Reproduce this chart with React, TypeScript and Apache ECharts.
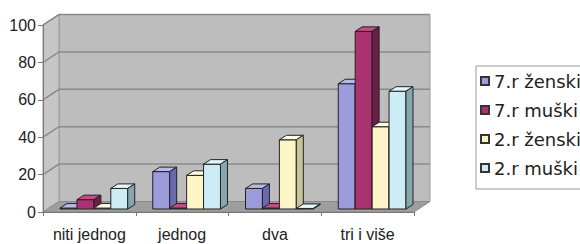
import React, { useEffect, useRef } from "react";
import * as echarts from "echarts";

const categories = ["niti jednog", "jednog", "dva", "tri i više"];
const seriesNames = ["7.r ženski", "7.r muški", "2.r ženski", "2.r muški"];
const zenski7 = [0.5, 20, 11, 67];
const muski7 = [5, 0.5, 0.5, 95];
const zenski2 = [0.5, 18, 37, 44];
const muski2 = [11, 24, 0.3, 63];
const yTicks = [0, 20, 40, 60, 80, 100];

const seriesValues = [zenski7, muski7, zenski2, muski2];
const frontColors = ["#9c9cdc", "#aa3270", "#fcf6c6", "#ccecf6"];
const topColors = ["#b8b8ee", "#c24e88", "#fffde2", "#e4f8fc"];
const sideColors = ["#6a6aaa", "#6c1e44", "#c8c49a", "#86a8ac"];

const WALL_DX = 16;
const WALL_DY = -10.5;
const BAR_DX = 7;
const BAR_DY = -4.5;
const GROUP_RATIO = 0.73;
const FONT = "'Liberation Sans', Arial, sans-serif";
const LEGEND_FONT = "'DejaVu Sans', sans-serif";

export default function App() {
  const ref = useRef<HTMLDivElement>(null);
  useEffect(() => {
    if (!ref.current) return;
    const chart = echarts.init(ref.current, undefined, { renderer: "svg" });

    const wallsRender = (params: any, api: any) => {
      const bw = api.size([1, 0])[0];
      const c0 = api.coord([0, 0]);
      const cN = api.coord([categories.length - 1, 0]);
      const L = c0[0] - bw / 2;
      const R = cN[0] + bw / 2;
      const y0 = c0[1];
      const yT = api.coord([0, yTicks[yTicks.length - 1]])[1];
      const children: any[] = [
        {
          type: "polygon",
          shape: { points: [[L + WALL_DX, yT + WALL_DY], [R + WALL_DX, yT + WALL_DY], [R + WALL_DX, y0 + WALL_DY], [L + WALL_DX, y0 + WALL_DY]] },
          style: { fill: "#bdbdbd", stroke: "#9a9a9a", lineWidth: 1 },
        },
        {
          type: "polygon",
          shape: { points: [[L, yT], [L + WALL_DX, yT + WALL_DY], [L + WALL_DX, y0 + WALL_DY], [L, y0]] },
          style: { fill: "#c6c6c6", stroke: "#9a9a9a", lineWidth: 1 },
        },
        {
          type: "polygon",
          shape: { points: [[L, y0], [R, y0], [R + WALL_DX, y0 + WALL_DY], [L + WALL_DX, y0 + WALL_DY]] },
          style: { fill: "#9e9e9e", stroke: "#8a8a8a", lineWidth: 1 },
        },
      ];
      yTicks.forEach((t) => {
        if (t === 0) return;
        const y = api.coord([0, t])[1];
        children.push({
          type: "polyline",
          shape: { points: [[L, y], [L + WALL_DX, y + WALL_DY], [R + WALL_DX, y + WALL_DY]] },
          style: { fill: "none", stroke: "#8a8a8a", lineWidth: 1.5 },
        });
      });
      return { type: "group", children };
    };

    const barRender = (s: number) => (params: any, api: any) => {
      const cat = api.value(0);
      const v = api.value(1);
      const base = api.coord([cat, 0]);
      const top = api.coord([cat, v]);
      const bw = api.size([1, 0])[0];
      const gw = bw * GROUP_RATIO;
      const w = gw / seriesNames.length;
      const ox = (WALL_DX - BAR_DX) / 2;
      const oy = (WALL_DY - BAR_DY) / 2;
      const x0 = base[0] - gw / 2 + s * w + ox;
      const x1 = x0 + w;
      const yb = base[1] + oy;
      const yt = top[1] + oy;
      const stroke = "#222";
      return {
        type: "group",
        children: [
          {
            type: "rect",
            shape: { x: x0, y: yt, width: w, height: Math.max(yb - yt, 0.5) },
            style: { fill: frontColors[s], stroke, lineWidth: 1 },
          },
          {
            type: "polygon",
            shape: { points: [[x0, yt], [x1, yt], [x1 + BAR_DX, yt + BAR_DY], [x0 + BAR_DX, yt + BAR_DY]] },
            style: { fill: topColors[s], stroke, lineWidth: 1 },
          },
          {
            type: "polygon",
            shape: { points: [[x1, yt], [x1 + BAR_DX, yt + BAR_DY], [x1 + BAR_DX, yb + BAR_DY], [x1, yb]] },
            style: { fill: sideColors[s], stroke, lineWidth: 1 },
          },
        ],
      };
    };

    const option: any = {
      animation: false,
      backgroundColor: "#ffffff",
      grid: { left: 43, right: 166, top: 25, bottom: 32 },
      legend: {
        data: seriesNames,
        orient: "vertical",
        left: 476,
        top: 66,
        itemWidth: 8,
        itemHeight: 8,
        itemGap: 11,
        padding: [6, 6, 12, 4],
        borderColor: "#999",
        borderWidth: 1,
        backgroundColor: "#fff",
        icon: "rect",
        textStyle: { fontSize: 18, color: "#222", fontFamily: LEGEND_FONT },
      },
      xAxis: {
        type: "category",
        data: categories,
        z: 5,
        axisLine: { lineStyle: { color: "#777", width: 1 } },
        axisTick: { show: true, length: 4, lineStyle: { color: "#777" } },
        axisLabel: { interval: 0, hideOverlap: false, fontSize: 16, color: "#222", margin: 14, fontFamily: FONT },
        splitLine: { show: false },
      },
      yAxis: {
        type: "value",
        min: 0,
        max: 100,
        interval: 20,
        z: 5,
        axisLine: { show: true, lineStyle: { color: "#777", width: 1 } },
        axisTick: { show: true, length: 5, lineStyle: { color: "#777" } },
        axisLabel: { fontSize: 16, color: "#222", margin: 7, fontFamily: FONT },
        splitLine: { show: false },
      },
      series: [
        {
          type: "custom",
          name: "walls",
          silent: true,
          z: 1,
          renderItem: wallsRender,
          data: [[0, 0]],
        },
        ...seriesNames.map((name, s) => ({
          type: "custom",
          name,
          z: 2,
          itemStyle: { color: frontColors[s], borderColor: "#333", borderWidth: 1 },
          renderItem: barRender(s),
          encode: { x: 0, y: 1 },
          data: seriesValues[s].map((v, i) => [i, v]),
        })),
      ],
    };
    chart.setOption(option);
    return () => chart.dispose();
  }, []);
  return (
    <div
      ref={ref}
      style={{ position: "fixed", left: 0, top: 0, width: 580, height: 244, background: "#fff" }}
    />
  );
}
